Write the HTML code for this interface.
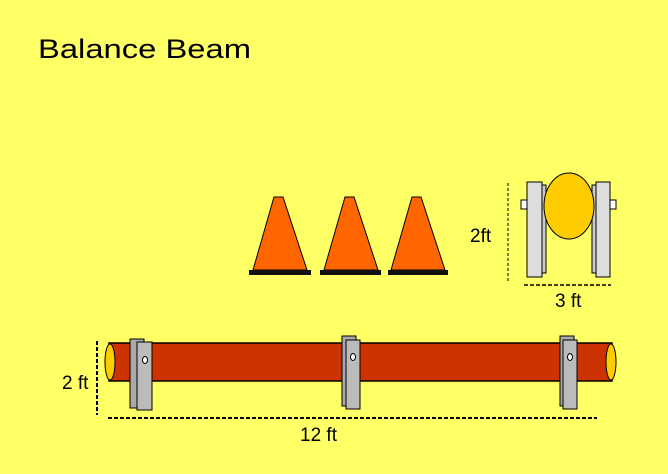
<!DOCTYPE html>
<html><head><style>body{margin:0;background:#FFFF66}svg{display:block}text{font-family:"Liberation Sans",sans-serif;fill:#000}</style></head><body>
<svg width="668" height="474" xmlns="http://www.w3.org/2000/svg">
<rect width="668" height="474" fill="#FFFF66"/>
<text x="38" y="58" font-size="27" textLength="213" lengthAdjust="spacingAndGlyphs">Balance Beam</text>
<!-- cones -->
<g stroke="#000" stroke-width="1">
<polygon points="274,197 283,197 307,270 253,270" fill="#FF6600"/>
<polygon points="345,197 354,197 378,270 324,270" fill="#FF6600"/>
<polygon points="412,197 421,197 445,270 391,270" fill="#FF6600"/>
</g>
<rect x="249" y="270" width="62" height="5" fill="#111"/>
<rect x="320" y="270" width="61" height="5" fill="#111"/>
<rect x="388" y="270" width="60" height="5" fill="#111"/>
<!-- side view -->
<rect x="521" y="200" width="6" height="9" fill="#fff" stroke="#000"/>
<rect x="610" y="200" width="6" height="9" fill="#fff" stroke="#000"/>
<rect x="538" y="185" width="8" height="88" fill="#ccc" stroke="#000"/>
<rect x="592" y="185" width="8" height="88" fill="#ccc" stroke="#000"/>
<ellipse cx="569" cy="206" rx="25" ry="33" fill="#FFCC00" stroke="#000"/>
<rect x="527" y="182" width="15" height="95" fill="#ddd" stroke="#000"/>
<rect x="596" y="182" width="14" height="95" fill="#ddd" stroke="#000"/>
<line x1="508" y1="183" x2="508" y2="282" stroke="#000" stroke-dasharray="3,2"/>
<line x1="524" y1="285" x2="611" y2="285" stroke="#000" stroke-width="1.5" stroke-dasharray="4,2"/>
<text x="470" y="242" font-size="19">2ft</text>
<text x="555" y="307" font-size="19">3 ft</text>
<!-- beam -->
<rect x="109" y="343" width="503" height="38" fill="#CC3300" stroke="#000" stroke-width="1.5"/>
<ellipse cx="110" cy="362" rx="5" ry="18" fill="#FFCC00" stroke="#000"/>
<ellipse cx="611" cy="362" rx="5" ry="18" fill="#FFCC00" stroke="#000"/>
<g stroke="#000" stroke-width="1">
<rect x="130" y="339" width="14" height="69" fill="#aaa"/>
<rect x="137" y="342" width="15" height="68" fill="#bbb"/>
<rect x="342" y="336" width="14" height="70" fill="#aaa"/>
<rect x="346" y="340" width="14" height="69" fill="#bbb"/>
<rect x="560" y="336" width="14" height="70" fill="#aaa"/>
<rect x="563" y="340" width="14" height="69" fill="#bbb"/>
</g>
<ellipse cx="145" cy="360" rx="2.5" ry="3.5" fill="#fff" stroke="#000"/>
<ellipse cx="353" cy="357" rx="2.5" ry="3.5" fill="#fff" stroke="#000"/>
<ellipse cx="570" cy="357" rx="2.5" ry="3.5" fill="#fff" stroke="#000"/>
<line x1="97" y1="341" x2="97" y2="415" stroke="#000" stroke-width="2" stroke-dasharray="4,2"/>
<line x1="108" y1="418" x2="597" y2="418" stroke="#000" stroke-width="2" stroke-dasharray="4,2"/>
<text x="62" y="389" font-size="19">2 ft</text>
<text x="300" y="441" font-size="19">12 ft</text>
</svg>
</body></html>
